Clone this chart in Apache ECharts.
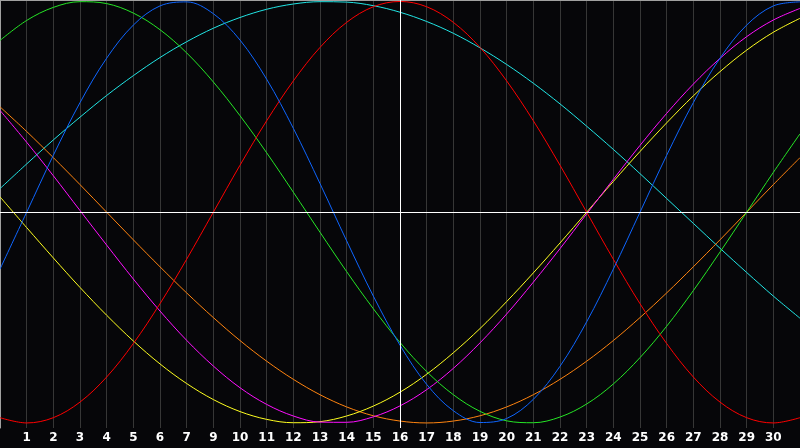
<!DOCTYPE html>
<html>
<head>
<meta charset="utf-8">
<script src="https://cdn.jsdelivr.net/npm/echarts@6/dist/echarts.min.js"></script>
<style>
  html, body { margin: 0; padding: 0; background: #060609; }
  #box { width: 800px; height: 448px; }
</style>
</head>
<body>
<div id="box"></div>
<script>
// day slots 0..30, label under each gridline (no "8" in the original)
const dayLabels = ['', '1', '2', '3', '4', '5', '6', '7', '9', '10', '11', '12', '13', '14', '15', '16',
  '17', '18', '19', '20', '21', '22', '23', '24', '25', '26', '27', '28', '29', '30', ''];
const todayIndex = 15;

const physical = [-0.270, 0.000, 0.270, 0.520, 0.731, 0.888, 0.979, 0.998, 0.942, 0.817, 0.631, 0.398, 0.136, -0.136, -0.398, -0.631,
  -0.817, -0.942, -0.998, -0.979, -0.888, -0.731, -0.520, -0.270, 0.000, 0.270, 0.520, 0.731, 0.888, 0.979, 0.998];
const emotional = [-0.975, -1.000, -0.975, -0.901, -0.782, -0.623, -0.434, -0.223, 0.000, 0.223, 0.434, 0.623, 0.782, 0.901, 0.975, 1.000,
  0.975, 0.901, 0.782, 0.623, 0.434, 0.223, 0.000, -0.223, -0.434, -0.623, -0.782, -0.901, -0.975, -1.000, -0.975];
const intellectual = [0.815, 0.910, 0.972, 0.999, 0.990, 0.945, 0.866, 0.756, 0.618, 0.458, 0.282, 0.095, -0.095, -0.282, -0.458, -0.618,
  -0.756, -0.866, -0.945, -0.990, -0.999, -0.972, -0.910, -0.815, -0.690, -0.541, -0.372, -0.189, 0.000, 0.189, 0.372];
const intuitive = [0.483, 0.332, 0.173, 0.008, -0.156, -0.317, -0.469, -0.608, -0.730, -0.833, -0.912, -0.967, -0.996, -0.997, -0.971, -0.919,
  -0.842, -0.741, -0.620, -0.483, -0.332, -0.173, -0.008, 0.156, 0.317, 0.469, 0.608, 0.730, 0.833, 0.912, 0.967];
const aesthetic = [0.073, -0.073, -0.217, -0.357, -0.489, -0.611, -0.720, -0.813, -0.889, -0.946, -0.983, -0.999, -0.994, -0.967, -0.920, -0.854,
  -0.769, -0.667, -0.552, -0.424, -0.288, -0.146, 0.000, 0.146, 0.288, 0.424, 0.552, 0.667, 0.769, 0.854, 0.920];
const awareness = [0.500, 0.383, 0.259, 0.131, 0.000, -0.131, -0.259, -0.383, -0.500, -0.609, -0.707, -0.793, -0.866, -0.924, -0.966, -0.991,
  -1.000, -0.991, -0.966, -0.924, -0.866, -0.793, -0.707, -0.609, -0.500, -0.383, -0.259, -0.131, 0.000, 0.131, 0.259];
const spiritual = [0.112, 0.229, 0.343, 0.451, 0.554, 0.648, 0.734, 0.809, 0.873, 0.924, 0.963, 0.988, 0.999, 0.997, 0.980, 0.949,
  0.905, 0.849, 0.780, 0.701, 0.612, 0.514, 0.408, 0.298, 0.183, 0.065, -0.053, -0.171, -0.286, -0.398, -0.503];

const curves = [
  { name: 'spiritual', data: spiritual, color: '#22e6e6' },
  { name: 'awareness', data: awareness, color: '#ff8410' },
  { name: 'aesthetic', data: aesthetic, color: '#ffff20' },
  { name: 'intuitive', data: intuitive, color: '#ff10ff' },
  { name: 'intellectual', data: intellectual, color: '#26e626' },
  { name: 'emotional', data: emotional, color: '#ff0000' },
  { name: 'physical', data: physical, color: '#0f66ff' }
];

const chart = echarts.init(document.getElementById('box'));

const series = curves.map(c => ({
  name: c.name,
  type: 'line',
  smooth: 0.35,
  showSymbol: false,
  symbol: 'none',
  lineStyle: { color: c.color, width: 1 },
  data: c.data.map((v, i) => [i, v])
}));

series.push({
  type: 'line',
  data: [],
  z: 5,
  markLine: {
    silent: true,
    symbol: 'none',
    animation: false,
    label: { show: false },
    lineStyle: { color: '#ffffff', width: 1, type: 'solid' },
    data: [{ yAxis: 0 }, { xAxis: todayIndex }]
  }
});

chart.setOption({
  backgroundColor: '#060609',
  animation: false,
  grid: { left: 0, right: 0, top: 0, bottom: 20 },
  xAxis: [{
    type: 'value',
    min: 0,
    max: dayLabels.length - 1,
    interval: 1,
    axisLine: { show: true, lineStyle: { color: '#a0a0a0', width: 1 } },
    axisTick: { show: false },
    splitLine: { show: true, lineStyle: { color: '#363636', width: 1 } },
    axisLabel: {
      color: '#ffffff',
      fontFamily: 'DejaVu Sans',
      fontWeight: 'bold',
      fontSize: 12,
      margin: 4,
      showMinLabel: false,
      showMaxLabel: false,
      formatter: v => dayLabels[v] || ''
    }
  }, {
    type: 'value',
    position: 'top',
    min: 0,
    max: dayLabels.length - 1,
    axisLine: { show: true, lineStyle: { color: '#a0a0a0', width: 1 } },
    axisTick: { show: false },
    axisLabel: { show: false },
    splitLine: { show: false }
  }],
  yAxis: {
    type: 'value',
    min: -1.024,
    max: 1.007,
    axisLine: { show: true, lineStyle: { color: '#a0a0a0', width: 1 } },
    axisTick: { show: false },
    axisLabel: { show: false },
    splitLine: { show: false }
  },
  series: series
});
</script>
</body>
</html>
